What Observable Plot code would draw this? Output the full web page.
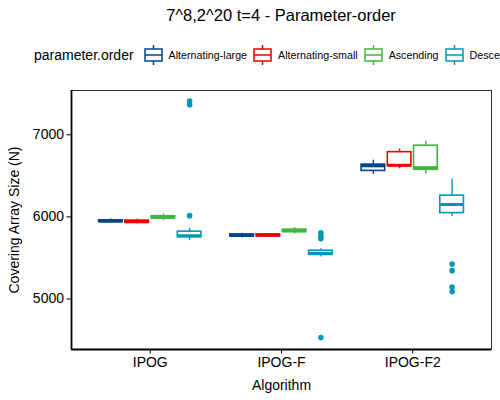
<!DOCTYPE html>
<html>
<head>
<meta charset="utf-8">
<script src="https://cdn.jsdelivr.net/npm/d3@7"></script>
<script src="https://cdn.jsdelivr.net/npm/@observablehq/plot@0.6"></script>
<style>
  html, body { margin: 0; padding: 0; background: white; }
  #wrap { position: relative; width: 500px; height: 400px; overflow: hidden; font-family: "Liberation Sans", Arial, sans-serif; color: black; }
  #title { position: absolute; left: 71px; top: 0; width: 420px; height: 30px; line-height: 30px; text-align: center; font-size: 16.5px; }
  #legend { position: absolute; left: 34px; top: 40px; height: 30px; display: flex; align-items: center; white-space: nowrap; }
  #legend .ttl { font-size: 14px; margin-right: 10px; }
  #legend .item { display: flex; align-items: center; margin-right: 6px; }
  #legend .item svg { margin-right: 6px; }
  #legend .lab { font-size: 10.7px; }
  #chart { position: absolute; left: 0; top: 70px; }
</style>
</head>
<body>
<div id="wrap">
  <div id="title"></div>
  <div id="legend"></div>
  <div id="chart"></div>
</div>
<script>
const title = "7^8,2^20 t=4 - Parameter-order";
const legendTitle = "parameter.order";
const algorithms = ["IPOG", "IPOG-F", "IPOG-F2"];
const orders = ["Alternating-large", "Alternating-small", "Ascending", "Descending"];
const colors = ["#00468B", "#ED0000", "#42B540", "#0099B4"];
const yTicks = [5000, 6000, 7000];

// box statistics per algorithm (rows) and parameter order (columns)
const lower  = [[5925, 5915, 5955, 5710], [5745, 5755, 5790, 5510], [6516, 6585, 6523, 6005]];
const q1     = [[5938, 5930, 5982, 5752], [5760, 5765, 5815, 5537], [6560, 6618, 6573, 6046]];
const median = [[5948, 5940, 5995, 5770], [5773, 5775, 5830, 5555], [6622, 6628, 6600, 6151]];
const q3     = [[5958, 5955, 6008, 5820], [5787, 5787, 5845, 5588], [6637, 6788, 6867, 6259]];
const upper  = [[5975, 5970, 6035, 5859], [5800, 5795, 5870, 5611], [6690, 6825, 6921, 6462]];

// outliers: [algorithm, order, value]
const outlierAlg   = ["IPOG", "IPOG", "IPOG", "IPOG-F", "IPOG-F", "IPOG-F", "IPOG-F", "IPOG-F2", "IPOG-F2", "IPOG-F2", "IPOG-F2"];
const outlierOrder = ["Descending", "Descending", "Descending", "Descending", "Descending", "Descending", "Descending", "Descending", "Descending", "Descending", "Descending"];
const outlierValue = [7410, 7365, 6015, 5805, 5765, 5735, 4530, 5425, 5345, 5145, 5090];

// slot position: each algorithm group has 4 slots plus a spacer
const slot = (a, o) => algorithms.indexOf(a) * 5 + orders.indexOf(o) + 1.5;
const groupCenter = (g) => g * 5 + 3;
const half = 0.45;

const boxes = algorithms.flatMap((a, g) => orders.map((o, j) => ({
  alg: a, order: o, pos: slot(a, o),
  lo: lower[g][j], q1: q1[g][j], med: median[g][j], q3: q3[g][j], hi: upper[g][j]
})));
const outliers = outlierValue.map((v, i) => ({
  alg: outlierAlg[i], order: outlierOrder[i], pos: slot(outlierAlg[i], outlierOrder[i]), value: v
}));

document.getElementById("title").textContent = title;

// legend
const legend = d3.select("#legend");
legend.append("span").attr("class", "ttl").text(legendTitle);
orders.forEach((o, j) => {
  const it = legend.append("span").attr("class", "item");
  const s = it.append("svg").attr("width", 19).attr("height", 22);
  s.append("line").attr("x1", 9.5).attr("x2", 9.5).attr("y1", 1).attr("y2", 21).attr("stroke", colors[j]).attr("stroke-width", 1.5);
  s.append("rect").attr("x", 1).attr("y", 5).attr("width", 17).attr("height", 12).attr("fill", "white").attr("stroke", colors[j]).attr("stroke-width", 1.5);
  s.append("line").attr("x1", 1).attr("x2", 18).attr("y1", 11).attr("y2", 11).attr("stroke", colors[j]).attr("stroke-width", 1.5);
  it.append("span").attr("class", "lab").text(o);
});

const yDomain = [4385, 7539];
const xDomain = [0, 16];

const plot = Plot.plot({
  width: 500,
  height: 330,
  marginTop: 20,
  marginBottom: 51,
  marginLeft: 71,
  marginRight: 9,
  style: { fontFamily: "Liberation Sans, Arial, sans-serif", fontSize: "14px", color: "black", background: "white" },
  x: { domain: xDomain },
  y: { domain: yDomain },
  color: { domain: orders, range: colors },
  marks: [
    Plot.ruleX(boxes, { x: "pos", y1: "lo", y2: "q1", stroke: "order", strokeWidth: 1.4 }),
    Plot.ruleX(boxes, { x: "pos", y1: "q3", y2: "hi", stroke: "order", strokeWidth: 1.4 }),
    Plot.rect(boxes, { x1: d => d.pos - half, x2: d => d.pos + half, y1: "q1", y2: "q3", fill: "white", stroke: "order", strokeWidth: 1.6 }),
    Plot.ruleY(boxes, { x1: d => d.pos - half, x2: d => d.pos + half, y: "med", stroke: "order", strokeWidth: 3 }),
    Plot.dot(outliers, { x: "pos", y: "value", fill: "order", r: 2.8 }),
    Plot.frame({ stroke: "#333", strokeWidth: 1 }),
    Plot.ruleX([xDomain[0]], { stroke: "black", strokeWidth: 1.8 }),
    Plot.ruleY([yDomain[0]], { stroke: "black", strokeWidth: 1.8 }),
    Plot.axisY({ ticks: yTicks, tickSize: 4.5, tickPadding: 3, tickFormat: d => String(d),
      label: "Covering Array Size (N)", labelAnchor: "center", labelArrow: "none", labelOffset: 62 }),
    Plot.axisX({ ticks: algorithms.map((a, g) => groupCenter(g)), tickSize: 4.5, tickPadding: 3,
      tickFormat: d => algorithms[(d - 3) / 5],
      label: "Algorithm", labelAnchor: "center", labelArrow: "none", labelOffset: 40 })
  ]
});
document.getElementById("chart").appendChild(plot);
</script>
</body>
</html>
